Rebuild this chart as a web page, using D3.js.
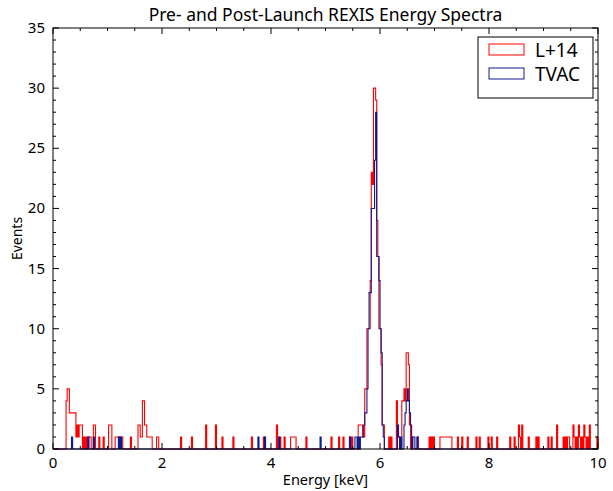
<!DOCTYPE html>
<html>
<head>
<meta charset="utf-8">
<script src="https://cdn.jsdelivr.net/npm/d3@7"></script>
<style>
  body { margin: 0; background: #fff; }
  text { font-family: "Noto Sans", "DejaVu Sans", sans-serif; fill: #000; }
</style>
</head>
<body>
<div id="mainDiv"></div>
<script>
// bin width of the step histograms (keV)
var binWidth = 0.02;

// L+14 spectrum: left bin edge (keV) and counts
var redEnergy = [0.24,0.26,0.28,0.30,0.32,0.34,0.36,0.38,0.40,0.42,0.44,0.46,0.48,0.50,0.52,0.56,0.60,0.64,0.66,0.68,
  0.74,0.76,0.84,0.92,1.02,1.04,1.06,1.14,1.16,1.18,1.20,1.22,1.24,1.26,1.42,1.56,1.58,1.60,1.62,1.64,1.66,1.68,1.70,
  1.72,1.74,1.76,1.78,1.80,1.90,1.92,2.34,2.54,2.80,2.98,3.10,3.30,3.64,3.86,4.10,4.16,4.24,4.36,4.38,4.40,4.42,4.44,
  4.64,5.10,5.24,5.32,5.44,5.48,5.60,5.62,5.64,5.66,5.68,5.70,5.72,5.74,5.76,5.78,5.80,5.82,5.84,5.86,5.88,5.90,5.92,
  5.94,5.96,5.98,6.00,6.02,6.04,6.06,6.16,6.20,6.30,6.32,6.34,6.40,6.42,6.44,6.46,6.48,6.50,6.52,6.54,6.58,6.68,6.90,
  6.94,6.98,7.10,7.12,7.14,7.16,7.18,7.20,7.22,7.24,7.26,7.28,7.30,7.42,7.50,7.60,7.76,7.82,7.98,8.04,8.14,8.38,8.46,
  8.54,8.56,8.60,8.72,8.86,8.90,9.08,9.14,9.24,9.36,9.40,9.44,9.46,9.54,9.56,9.60,9.64,9.66,9.70,9.74,9.76,9.80,9.84,9.98];
var redCounts = [4,5,5,3,3,3,3,3,3,1,2,1,2,2,2,1,1,1,1,1,
  2,2,1,1,2,2,2,1,1,1,1,1,1,1,1,2,2,1,1,4,4,2,2,
  1,1,1,1,1,1,1,1,1,2,2,1,1,1,1,2,1,1,1,1,1,1,1,
  1,1,1,1,1,1,2,2,2,2,1,1,5,5,10,10,10,14,23,22,30,30,29,
  19,16,10,10,7,2,2,1,1,4,1,1,4,4,5,4,8,8,7,2,1,1,1,
  1,1,1,1,1,1,1,1,1,1,1,1,1,1,1,1,1,1,1,1,1,1,1,
  2,1,2,1,1,1,1,1,2,1,1,1,1,2,1,1,2,1,1,2,1,1,2,1];

// TVAC spectrum
var blueEnergy = [0.34,0.64,0.74,1.20,1.24,3.76,3.88,4.14,4.90,5.44,5.54,5.56,5.60,5.64,5.66,5.68,5.70,5.72,5.74,5.76,
  5.78,5.80,5.82,5.84,5.86,5.88,5.90,5.92,5.94,5.96,5.98,6.00,6.02,6.04,6.06,6.32,6.34,6.38,6.44,6.46,6.48,6.50,6.52,
  6.54,6.56,6.60,6.62,6.68];
var blueCounts = [1,1,1,1,1,1,1,1,1,1,1,1,1,1,1,1,2,3,3,5,
  10,13,13,20,20,20,24,28,16,16,14,10,8,2,1,2,1,1,2,3,4,5,4,
  3,2,1,1,1];

var seriesNames = ["L+14", "TVAC"];
var seriesColors = ["#ff0000", "#0c1a8e"];
var xTicks = [0, 2, 4, 6, 8, 10];
var yTicks = [0, 5, 10, 15, 20, 25, 30, 35];

var width = 613, height = 491;
var margin = {top: 28, right: 15, bottom: 42, left: 53};

var svg = d3.select("#mainDiv").append("svg")
  .attr("width", width)
  .attr("height", height);

var x = d3.scaleLinear().domain([0, 10]).range([margin.left, width - margin.right]);
var y = d3.scaleLinear().domain([0, 35]).range([height - margin.bottom, margin.top]);

// turn sparse bins into a full step outline
function stepPoints(energy, counts) {
  var nBins = Math.round(10 / binWidth);
  var full = new Array(nBins).fill(0);
  for (var i = 0; i < energy.length; i++) {
    full[Math.round(energy[i] / binWidth)] = counts[i];
  }
  var pts = [[0, 0]];
  for (var j = 0; j < nBins; j++) {
    pts.push([j * binWidth, full[j]]);
    pts.push([(j + 1) * binWidth, full[j]]);
  }
  pts.push([10, 0]);
  return pts;
}

var line = d3.line().x(function(d) { return x(d[0]); }).y(function(d) { return y(d[1]); });

var series = [stepPoints(redEnergy, redCounts), stepPoints(blueEnergy, blueCounts)];
series.forEach(function(pts, i) {
  svg.append("path")
    .attr("d", line(pts))
    .attr("fill", "none")
    .attr("stroke", seriesColors[i])
    .attr("stroke-width", 1.1);
});

// frame
var x0 = x(0), x1 = x(10), y0 = y(0), y1 = y(35);
svg.append("rect")
  .attr("x", x0).attr("y", y1)
  .attr("width", x1 - x0).attr("height", y0 - y1)
  .attr("fill", "none").attr("stroke", "#000").attr("stroke-width", 1);

// inward ticks on all four sides
var ticks = svg.append("g").attr("stroke", "#000").attr("stroke-width", 1);
d3.range(0, 10.01, 0.5).forEach(function(v) {
  var len = (Math.abs(v % 2) < 1e-6) ? 6 : 3;
  ticks.append("line").attr("x1", x(v)).attr("x2", x(v)).attr("y1", y0).attr("y2", y0 - len);
  ticks.append("line").attr("x1", x(v)).attr("x2", x(v)).attr("y1", y1).attr("y2", y1 + len);
});
d3.range(0, 35.01, 1).forEach(function(v) {
  var len = (v % 5 === 0) ? 6 : 3;
  ticks.append("line").attr("y1", y(v)).attr("y2", y(v)).attr("x1", x0).attr("x2", x0 + len);
  ticks.append("line").attr("y1", y(v)).attr("y2", y(v)).attr("x1", x1).attr("x2", x1 - len);
});

xTicks.forEach(function(v) {
  svg.append("text")
    .attr("x", x(v)).attr("y", y0 + 19)
    .attr("text-anchor", "middle")
    .attr("font-size", "15px")
    .text(v);
});
yTicks.forEach(function(v) {
  svg.append("text")
    .attr("x", x0 - 8).attr("y", y(v) + 5)
    .attr("text-anchor", "end")
    .attr("font-size", "15px")
    .text(v);
});

// title and axis labels
svg.append("text")
  .attr("x", (x0 + x1) / 2).attr("y", 21)
  .attr("text-anchor", "middle")
  .attr("font-size", "17.5px")
  .text("Pre- and Post-Launch REXIS Energy Spectra");
svg.append("text")
  .attr("x", (x0 + x1) / 2).attr("y", 485)
  .attr("text-anchor", "middle")
  .attr("font-size", "14.5px")
  .text("Energy [keV]");
svg.append("text")
  .attr("transform", "translate(22," + ((y0 + y1) / 2) + ") rotate(-90)")
  .attr("text-anchor", "middle")
  .attr("font-size", "14px")
  .text("Events");

// legend
var legend = svg.append("g");
legend.append("rect")
  .attr("x", 478).attr("y", 37).attr("width", 115).attr("height", 61)
  .attr("fill", "#fff").attr("stroke", "#000").attr("stroke-width", 1);
seriesNames.forEach(function(name, i) {
  legend.append("rect")
    .attr("x", 489).attr("y", 44 + i * 24).attr("width", 35).attr("height", 11)
    .attr("fill", "none").attr("stroke", seriesColors[i]).attr("stroke-width", 1);
  legend.append("text")
    .attr("x", 535).attr("y", 57 + i * 24)
    .attr("font-size", "19px")
    .text(name);
});
</script>
</body>
</html>
